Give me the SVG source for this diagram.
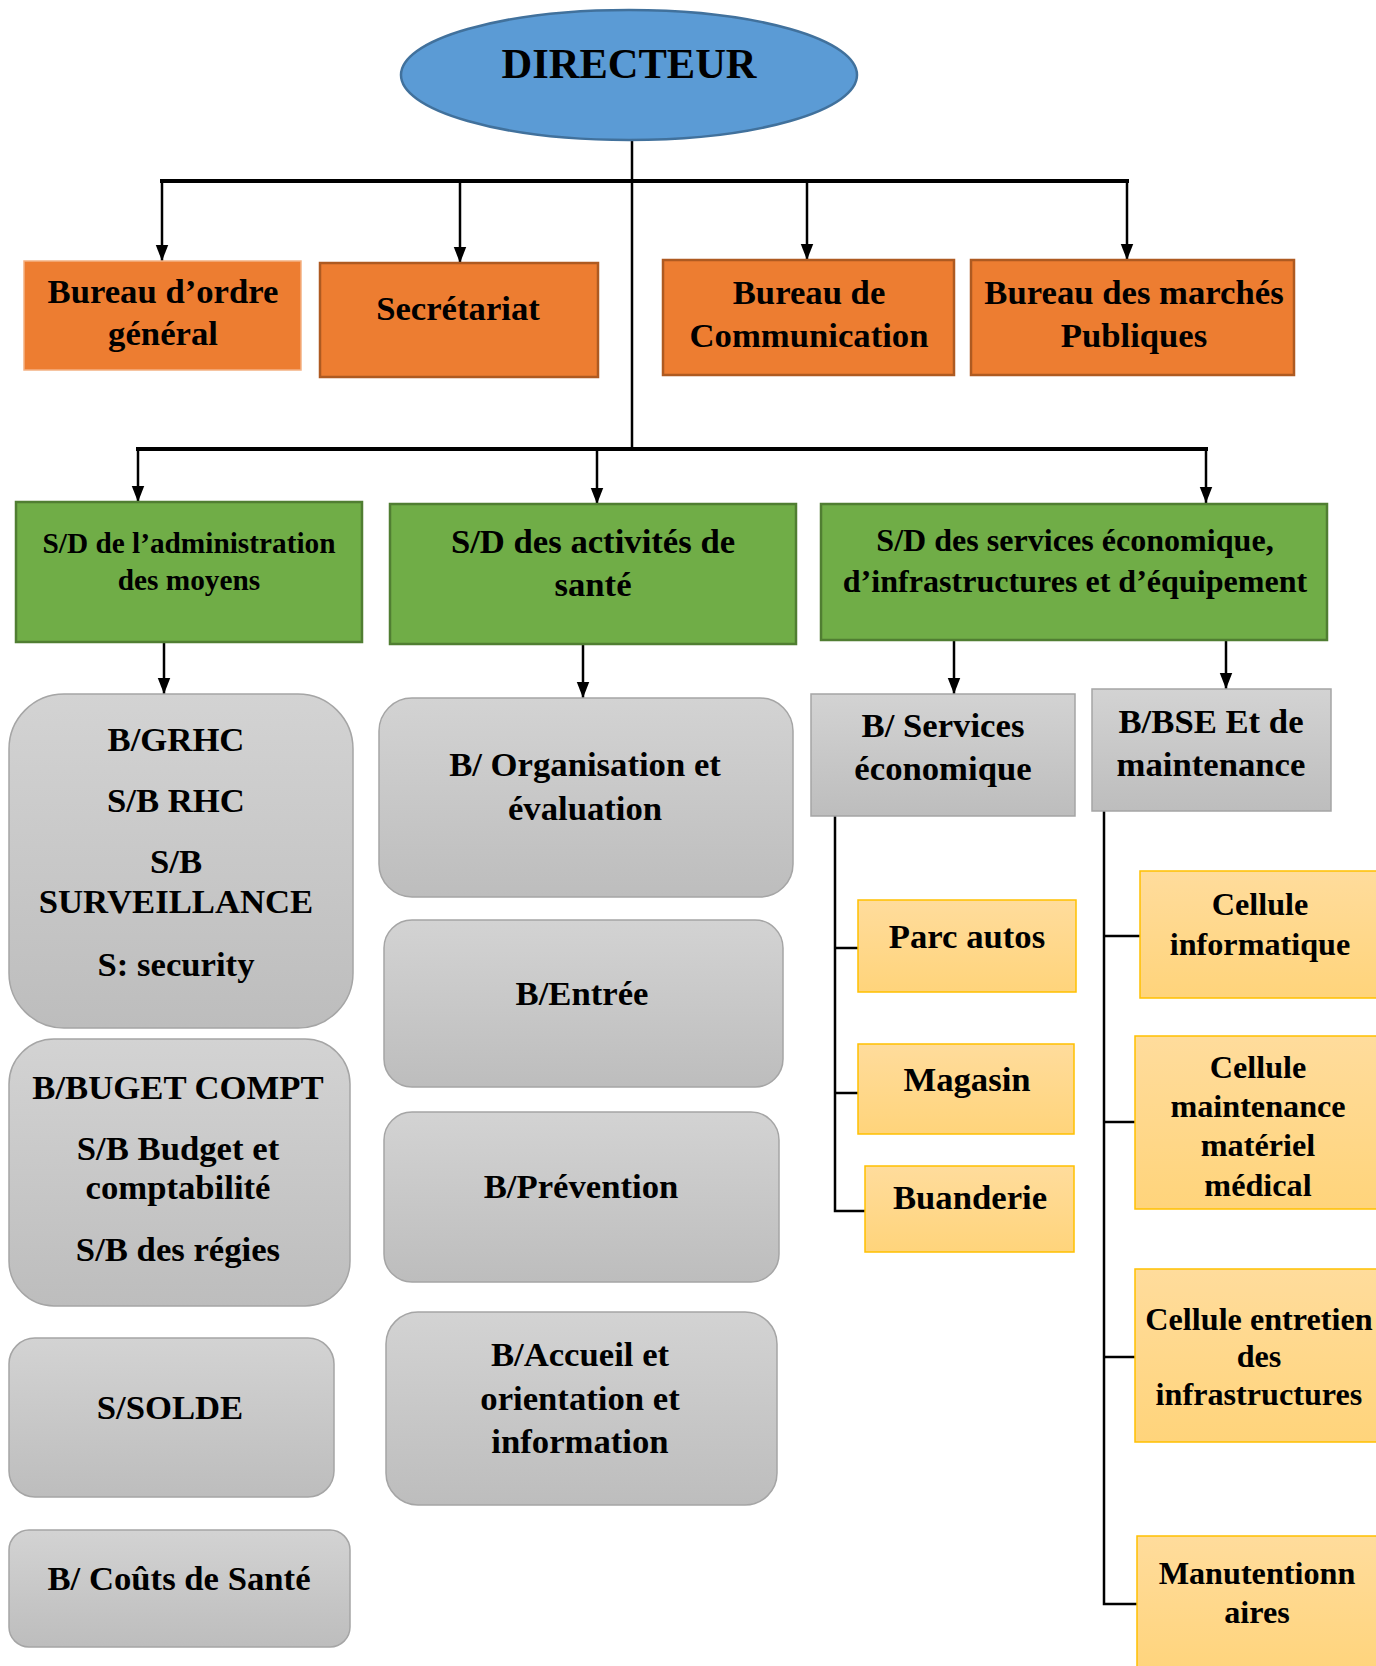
<svg xmlns="http://www.w3.org/2000/svg" width="1376" height="1666" viewBox="0 0 1376 1666">
<style>
text{font-family:"Liberation Serif","Times New Roman",serif;font-weight:bold;fill:#000;text-anchor:middle}
.t34{font-size:34.7px}
.t32{font-size:32.2px}
.orange{fill:#ED7D31;stroke:#AE5A21;stroke-width:2.5}
.green{fill:#70AD47;stroke:#507E32;stroke-width:2.5}
.gray{fill:url(#gGray);stroke:#A5A5A5;stroke-width:1.5}
.yellow{fill:url(#gYel);stroke:#FFC000;stroke-width:1.5}
.ln{stroke:#000;stroke-width:2.5;fill:none}
.bus{stroke:#000;stroke-width:4;fill:none}
.arr{stroke:#000;stroke-width:2.5;fill:none;marker-end:url(#ah)}
</style>
<defs>
<linearGradient id="gGray" x1="0" y1="0" x2="0" y2="1">
<stop offset="0" stop-color="#D3D3D3"/>
<stop offset="1" stop-color="#BDBDBD"/>
</linearGradient>
<linearGradient id="gYel" x1="0" y1="0" x2="0" y2="1">
<stop offset="0" stop-color="#FFDC9C"/>
<stop offset="1" stop-color="#FFD47B"/>
</linearGradient>
<marker id="ah" markerUnits="userSpaceOnUse" markerWidth="16" markerHeight="20" refX="18" refY="7" orient="auto" viewBox="0 0 18 14">
<path d="M0,0 L18,7 L0,14 Z" fill="#000"/>
</marker>
</defs>

<g id="connectors">
<line class="ln" x1="632" y1="140" x2="632" y2="449"/>
<line class="bus" x1="160" y1="181" x2="1129" y2="181"/>
<line class="arr" x1="162" y1="181" x2="162" y2="261"/>
<line class="arr" x1="460" y1="181" x2="460" y2="263"/>
<line class="arr" x1="807" y1="181" x2="807" y2="260"/>
<line class="arr" x1="1127" y1="181" x2="1127" y2="260"/>
<line class="bus" x1="136" y1="449" x2="1208" y2="449"/>
<line class="arr" x1="138" y1="449" x2="138" y2="502"/>
<line class="arr" x1="597" y1="449" x2="597" y2="504"/>
<line class="arr" x1="1206" y1="449" x2="1206" y2="503"/>
<line class="arr" x1="164" y1="643" x2="164" y2="694"/>
<line class="arr" x1="583" y1="645" x2="583" y2="698"/>
<line class="arr" x1="954" y1="641" x2="954" y2="694"/>
<line class="arr" x1="1226" y1="641" x2="1226" y2="689"/>
<polyline class="ln" points="835,816 835,1211 865,1211"/>
<line class="ln" x1="835" y1="948" x2="858" y2="948"/>
<line class="ln" x1="835" y1="1093" x2="858" y2="1093"/>
<polyline class="ln" points="1104,811 1104,1604 1137,1604"/>
<line class="ln" x1="1104" y1="936" x2="1140" y2="936"/>
<line class="ln" x1="1104" y1="1122" x2="1135" y2="1122"/>
<line class="ln" x1="1104" y1="1357" x2="1135" y2="1357"/>
</g>

<g id="directeur">
<ellipse cx="629" cy="75" rx="228" ry="65" fill="#5B9BD5" stroke="#41719C" stroke-width="2.5"/>
<text x="629" y="78" font-size="42.5">DIRECTEUR</text>
</g>

<g id="bureau-ordre">
<rect x="24" y="261" width="277" height="109" fill="#ED7D31" stroke="#F4B183" stroke-width="1.5"/>
<text class="t34" x="163" y="303">Bureau d’ordre</text>
<text class="t34" x="163" y="345">général</text>
</g>
<g id="secretariat">
<rect class="orange" x="320" y="263" width="278" height="114"/>
<text class="t34" x="458" y="320">Secrétariat</text>
</g>
<g id="bureau-communication">
<rect class="orange" x="663" y="260" width="291" height="115"/>
<text class="t34" x="809" y="304">Bureau de</text>
<text class="t34" x="809" y="347">Communication</text>
</g>
<g id="bureau-marches">
<rect class="orange" x="971" y="260" width="323" height="115"/>
<text class="t34" x="1134" y="304">Bureau des marchés</text>
<text class="t34" x="1134" y="347">Publiques</text>
</g>

<g id="sd-admin">
<rect class="green" x="16" y="502" width="346" height="140"/>
<text x="189" y="553" font-size="29.3">S/D de l’administration</text>
<text x="189" y="590" font-size="29.3">des moyens</text>
</g>
<g id="sd-sante">
<rect class="green" x="390" y="504" width="406" height="140"/>
<text class="t34" x="593" y="553">S/D des activités de</text>
<text class="t34" x="593" y="596">santé</text>
</g>
<g id="sd-eco">
<rect class="green" x="821" y="504" width="506" height="136"/>
<text x="1075" y="551" font-size="32.1">S/D des services économique,</text>
<text x="1075" y="592" font-size="32.1">d’infrastructures et d’équipement</text>
</g>

<g id="b-grhc">
<rect class="gray" x="9" y="694" width="344" height="334" rx="55" ry="55"/>
<text class="t34" x="176" y="751">B/GRHC</text>
<text class="t34" x="176" y="812">S/B RHC</text>
<text class="t34" x="176" y="873">S/B</text>
<text class="t34" x="176" y="913">SURVEILLANCE</text>
<text class="t34" x="176" y="976">S: security</text>
</g>
<g id="b-budget">
<rect class="gray" x="9" y="1039" width="341" height="267" rx="45" ry="45"/>
<text class="t34" x="178" y="1099">B/BUGET COMPT</text>
<text class="t34" x="178" y="1160">S/B Budget et</text>
<text class="t34" x="178" y="1199">comptabilité</text>
<text class="t34" x="178" y="1261">S/B des régies</text>
</g>
<g id="s-solde">
<rect class="gray" x="9" y="1338" width="325" height="159" rx="26" ry="26"/>
<text class="t34" x="170" y="1419">S/SOLDE</text>
</g>
<g id="b-couts">
<rect class="gray" x="9" y="1530" width="341" height="117" rx="20" ry="20"/>
<text class="t34" x="179" y="1590">B/ Coûts de Santé</text>
</g>

<g id="b-organisation">
<rect class="gray" x="379" y="698" width="414" height="199" rx="33" ry="33"/>
<text class="t34" x="585" y="776">B/ Organisation et</text>
<text class="t34" x="585" y="820">évaluation</text>
</g>
<g id="b-entree">
<rect class="gray" x="384" y="920" width="399" height="167" rx="28" ry="28"/>
<text class="t34" x="582" y="1005">B/Entrée</text>
</g>
<g id="b-prevention">
<rect class="gray" x="384" y="1112" width="395" height="170" rx="28" ry="28"/>
<text class="t34" x="581" y="1198">B/Prévention</text>
</g>
<g id="b-accueil">
<rect class="gray" x="386" y="1312" width="391" height="193" rx="32" ry="32"/>
<text class="t34" x="580" y="1366">B/Accueil et</text>
<text class="t34" x="580" y="1410">orientation et</text>
<text class="t34" x="580" y="1453">information</text>
</g>

<g id="b-services-eco">
<rect class="gray" x="811" y="694" width="264" height="122"/>
<text class="t34" x="943" y="737">B/ Services</text>
<text class="t34" x="943" y="780">économique</text>
</g>
<g id="b-bse">
<rect class="gray" x="1092" y="689" width="239" height="122"/>
<text class="t34" x="1211" y="733">B/BSE Et de</text>
<text class="t34" x="1211" y="776">maintenance</text>
</g>

<g id="parc-autos">
<rect class="yellow" x="858" y="900" width="218" height="92"/>
<text class="t34" x="967" y="948">Parc autos</text>
</g>
<g id="magasin">
<rect class="yellow" x="858" y="1044" width="216" height="90"/>
<text class="t34" x="967" y="1091">Magasin</text>
</g>
<g id="buanderie">
<rect class="yellow" x="865" y="1166" width="209" height="86"/>
<text class="t34" x="970" y="1209">Buanderie</text>
</g>

<g id="cellule-info">
<rect class="yellow" x="1140" y="871" width="250" height="127"/>
<text class="t32" x="1260" y="915">Cellule</text>
<text class="t32" x="1260" y="955">informatique</text>
</g>
<g id="cellule-maintenance">
<rect class="yellow" x="1135" y="1036" width="255" height="173"/>
<text class="t32" x="1258" y="1078">Cellule</text>
<text class="t32" x="1258" y="1117">maintenance</text>
<text class="t32" x="1258" y="1156">matériel</text>
<text class="t32" x="1258" y="1196">médical</text>
</g>
<g id="cellule-entretien">
<rect class="yellow" x="1135" y="1269" width="255" height="173"/>
<text class="t32" x="1259" y="1330">Cellule entretien</text>
<text class="t32" x="1259" y="1367">des</text>
<text class="t32" x="1259" y="1405">infrastructures</text>
</g>
<g id="manutentionnaires">
<rect class="yellow" x="1137" y="1536" width="253" height="140"/>
<text class="t32" x="1257" y="1584">Manutentionn</text>
<text class="t32" x="1257" y="1623">aires</text>
</g>
</svg>
